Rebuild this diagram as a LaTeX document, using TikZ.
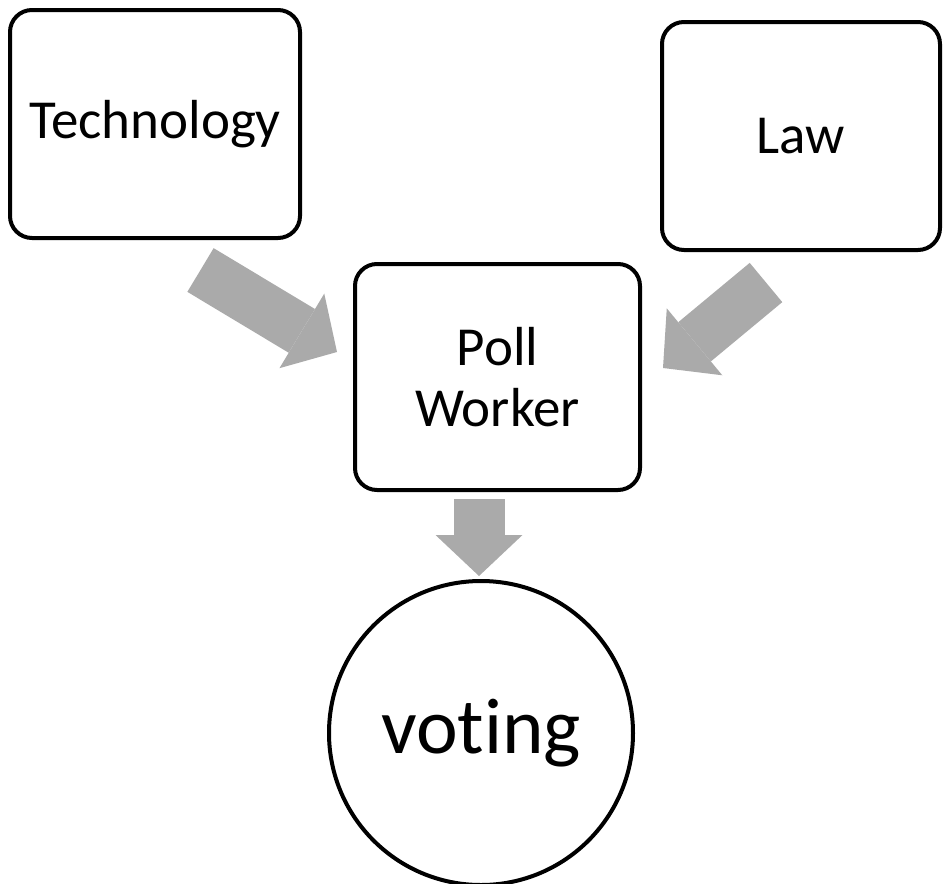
\documentclass[tikz,border=0pt]{standalone}
\usepackage{fontspec}
\setmainfont{Carlito}[Ligatures=NoCommon]
\usetikzlibrary{arrows.meta}
\definecolor{arrowgray}{RGB}{170,170,170}
\begin{document}
\begin{tikzpicture}[x=1pt,y=-1pt,
    box/.style={draw,line width=4pt,rounded corners=22pt,align=center,
      font=\fontsize{55}{61}\selectfont},
    bigarrow/.style={arrowgray,line width=51pt,
      -{Triangle[width=87pt,length=41pt,line width=0pt]}}]
  %ramme
  	\useasboundingbox (0,0) rectangle (943,884);

  %bokse
  	\node[box,minimum width=290pt,minimum height=228pt] (tech) at (155,124) {Technology};
  	\node[box,minimum width=278pt,minimum height=228pt] (law) at (801,136) {Law};
  	\node[box,minimum width=285pt,minimum height=226pt] (poll) at (497.5,377) {Poll\\Worker};

  %cirkel
  	\node[draw,circle,line width=4pt,minimum size=304pt,inner sep=0pt,
  	  font=\fontsize{79}{90}\selectfont] (voting) at (481,733) {voting};

  %pile
  	\coordinate (techtail) at (200.5,270);
  	\coordinate (techtip) at (337,352);
  	\coordinate (lawtail) at (766,282.5);
  	\coordinate (lawtip) at (663,368);
  	\coordinate (polltail) at (479,499);
  	\coordinate (polltip) at (479,576);
  	\draw[bigarrow] (techtail) -- (techtip);
  	\draw[bigarrow] (lawtail) -- (lawtip);
  	\draw[bigarrow] (polltail) -- (polltip);
\end{tikzpicture}
\end{document}
